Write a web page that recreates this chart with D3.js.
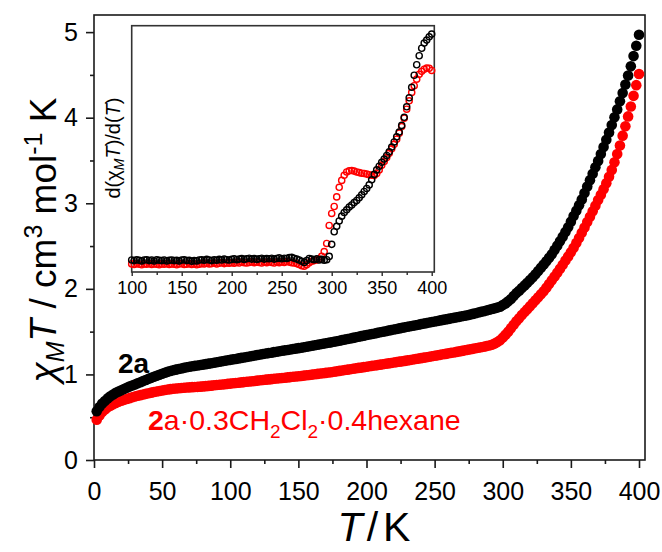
<!DOCTYPE html>
<html>
<head>
<meta charset="utf-8">
<script src="https://cdn.jsdelivr.net/npm/d3@7"></script>
<style>
  html, body { margin: 0; padding: 0; background: #fff; }
  svg { display: block; }
  text { font-family: "Liberation Sans", Arial, sans-serif; }
</style>
</head>
<body>
<svg id="chart" width="662" height="552"></svg>
<script>
// Temperature sweep (K) for the main chi_M*T curves
const temps = [2,4,6,8,10,12,14,16,18,20,22,24,26,28,30,32,34,36,38,40,42,44,46,48,50,52,54,56,58,60,62,64,66,68,70,72,74,76,78,80,82,84,86,88,90,92,94,96,98,100,102,104,106,108,110,112,114,116,118,120,122,124,126,128,130,132,134,136,138,140,142,144,146,148,150,152,154,156,158,160,162,164,166,168,170,172,174,176,178,180,182,184,186,188,190,192,194,196,198,200,202,204,206,208,210,212,214,216,218,220,222,224,226,228,230,232,234,236,238,240,242,244,246,248,250,252,254,256,258,260,262,264,266,268,270,272,274,276,278,280,282,284,286,288,290,292,294,296,298,300,302,304,306,308,310,312,314,316,318,320,322,324,326,328,330,332,334,336,338,340,342,344,346,348,350,352,354,356,358,360,362,364,366,368,370,372,374,376,378,380,382,384,386,388,390,392,394,396,398,400];

// chi_M*T (cm3 mol-1 K) of desolvated 2a
const chiT_2a = [0.57,0.62,0.66,0.69,0.72,0.745,0.765,0.785,0.80,0.815,0.83,0.845,0.858,0.87,0.883,0.896,0.909,0.922,0.935,0.948,0.96,0.972,0.984,0.996,1.008,1.02,1.03,1.04,1.048,1.056,1.063,1.07,1.077,1.083,1.089,1.095,1.10,1.105,1.11,1.115,1.12,1.126,1.131,1.137,1.142,1.148,1.154,1.159,1.165,1.17,1.176,1.181,1.187,1.193,1.198,1.204,1.21,1.215,1.221,1.227,1.232,1.238,1.244,1.249,1.254,1.26,1.265,1.27,1.276,1.281,1.286,1.292,1.297,1.302,1.307,1.312,1.318,1.324,1.33,1.335,1.341,1.347,1.352,1.358,1.364,1.37,1.375,1.381,1.388,1.394,1.401,1.407,1.414,1.42,1.427,1.433,1.44,1.447,1.453,1.46,1.466,1.473,1.479,1.486,1.492,1.499,1.505,1.512,1.518,1.525,1.531,1.538,1.544,1.55,1.557,1.563,1.569,1.575,1.581,1.588,1.594,1.6,1.606,1.613,1.619,1.625,1.631,1.637,1.643,1.649,1.655,1.661,1.667,1.673,1.679,1.685,1.691,1.699,1.707,1.715,1.723,1.731,1.739,1.747,1.756,1.764,1.772,1.781,1.79,1.81,1.83,1.855,1.88,1.915,1.95,1.978,2.009,2.04,2.072,2.103,2.135,2.17,2.208,2.246,2.285,2.323,2.362,2.405,2.455,2.505,2.557,2.61,2.663,2.72,2.785,2.85,2.914,2.978,3.045,3.12,3.195,3.27,3.345,3.42,3.495,3.575,3.657,3.741,3.827,3.915,4.005,4.097,4.191,4.288,4.388,4.492,4.6,4.72,4.84,4.97];

// chi_M*T (cm3 mol-1 K) of the solvate 2a·0.3CH2Cl2·0.4hexane
const chiT_solv = [0.47,0.52,0.56,0.59,0.615,0.635,0.652,0.667,0.68,0.692,0.703,0.713,0.723,0.733,0.742,0.75,0.758,0.766,0.773,0.78,0.787,0.794,0.80,0.806,0.812,0.818,0.823,0.828,0.832,0.836,0.839,0.842,0.845,0.847,0.849,0.851,0.853,0.855,0.857,0.86,0.863,0.866,0.869,0.873,0.876,0.88,0.883,0.886,0.89,0.893,0.896,0.9,0.903,0.907,0.91,0.914,0.917,0.921,0.924,0.928,0.932,0.935,0.939,0.942,0.945,0.949,0.952,0.955,0.959,0.962,0.965,0.969,0.972,0.975,0.979,0.982,0.986,0.99,0.994,0.998,1.002,1.006,1.01,1.014,1.018,1.022,1.026,1.031,1.036,1.041,1.046,1.051,1.056,1.061,1.066,1.071,1.076,1.08,1.085,1.09,1.095,1.1,1.105,1.109,1.114,1.119,1.124,1.129,1.134,1.139,1.144,1.149,1.153,1.158,1.164,1.169,1.174,1.18,1.185,1.19,1.196,1.201,1.207,1.212,1.218,1.223,1.229,1.235,1.24,1.246,1.252,1.257,1.263,1.269,1.275,1.281,1.287,1.293,1.299,1.305,1.311,1.317,1.324,1.331,1.338,1.347,1.36,1.378,1.40,1.43,1.465,1.50,1.54,1.58,1.62,1.657,1.693,1.728,1.762,1.796,1.831,1.866,1.901,1.936,1.972,2.014,2.057,2.1,2.144,2.189,2.235,2.282,2.33,2.379,2.428,2.481,2.537,2.595,2.655,2.717,2.78,2.843,2.907,2.972,3.038,3.10,3.165,3.235,3.31,3.39,3.48,3.575,3.675,3.79,3.90,4.015,4.13,4.255,4.38,4.51];

// Temperatures (K) for the derivative inset
const dTemps = [100,102.5,105,107.5,110,112.5,115,117.5,120,122.5,125,127.5,130,132.5,135,137.5,140,142.5,145,147.5,150,152.5,155,157.5,160,162.5,165,167.5,170,172.5,175,177.5,180,182.5,185,187.5,190,192.5,195,197.5,200,202.5,205,207.5,210,212.5,215,217.5,220,222.5,225,227.5,230,232.5,235,237.5,240,242.5,245,247.5,250,252.5,255,257.5,260,262.5,265,267.5,270,272.5,275,277.5,280,282.5,285,287.5,290,292.5,295,297.5,300,302.5,305,307.5,310,312.5,315,317.5,320,322.5,325,327.5,330,332.5,335,337.5,340,342.5,345,347.5,350,352.5,355,357.5,360,362.5,365,367.5,370,372.5,375,377.5,380,382.5,385,387.5,390,392.5,395,397.5,400];

// d(chi_M*T)/dT of 2a
const dChiT_2a = [0.0040,0.0038,0.0041,0.0039,0.0037,0.0040,0.0041,0.0038,0.0040,0.0037,0.0041,0.0039,0.0038,0.0040,0.0037,0.0039,0.0040,0.0038,0.0039,0.0037,0.0040,0.0041,0.0038,0.0039,0.0036,0.0038,0.0037,0.0040,0.0041,0.0039,0.0042,0.0040,0.0038,0.0041,0.0039,0.0042,0.0040,0.0043,0.0041,0.0040,0.0042,0.0044,0.0041,0.0043,0.0045,0.0042,0.0044,0.0046,0.0043,0.0045,0.0042,0.0044,0.0046,0.0043,0.0045,0.0044,0.0046,0.0043,0.0045,0.0047,0.0044,0.0046,0.0045,0.0048,0.0049,0.0046,0.0043,0.0040,0.0036,0.0032,0.0038,0.0045,0.0043,0.0041,0.0044,0.0040,0.0042,0.0039,0.0041,0.0052,0.0092,0.0134,0.0152,0.0170,0.0186,0.0198,0.0207,0.0216,0.0223,0.0231,0.0238,0.0247,0.0257,0.0268,0.0278,0.0290,0.0307,0.0325,0.0340,0.0352,0.0365,0.0376,0.0388,0.0400,0.0416,0.0433,0.0450,0.0466,0.0488,0.0515,0.0550,0.0580,0.0615,0.0655,0.0690,0.0720,0.0745,0.0762,0.0772,0.0783,0.0792,0.0801];

// d(chi_M*T)/dT of the solvate
const dChiT_solv = [0.0027,0.0025,0.0028,0.0026,0.0024,0.0027,0.0026,0.0028,0.0025,0.0027,0.0026,0.0024,0.0027,0.0026,0.0028,0.0025,0.0027,0.0026,0.0024,0.0027,0.0028,0.0025,0.0026,0.0028,0.0025,0.0027,0.0024,0.0026,0.0028,0.0027,0.0029,0.0027,0.0028,0.0030,0.0027,0.0029,0.0031,0.0028,0.0030,0.0029,0.0031,0.0029,0.0032,0.0030,0.0033,0.0031,0.0030,0.0032,0.0034,0.0031,0.0033,0.0032,0.0030,0.0033,0.0031,0.0034,0.0032,0.0030,0.0033,0.0031,0.0034,0.0032,0.0035,0.0033,0.0031,0.0030,0.0028,0.0025,0.0021,0.0019,0.0024,0.0031,0.0036,0.0038,0.0040,0.0043,0.0052,0.0068,0.0095,0.0155,0.0195,0.0218,0.0250,0.0282,0.0305,0.0322,0.0333,0.0337,0.0338,0.0336,0.0333,0.0331,0.0329,0.0328,0.0326,0.0324,0.0322,0.0321,0.0328,0.0340,0.0355,0.0368,0.0381,0.0395,0.0410,0.0425,0.0442,0.0462,0.0484,0.0512,0.0542,0.0570,0.0598,0.0620,0.0642,0.0658,0.0668,0.0675,0.0679,0.0678,0.0671];

// Axis ticks
const xMajor = [0,50,100,150,200,250,300,350,400];
const xMinor = [25,75,125,175,225,275,325,375];
const yMajor = [0,1,2,3,4,5];
const yMinor = [0.5,1.5,2.5,3.5,4.5];
const insetMajor = [100,150,200,250,300,350,400];
const insetMinor = [125,175,225,275,325,375];

const svg = d3.select("#chart");
svg.append("rect").attr("width", 662).attr("height", 552).attr("fill", "#fff");

// ---------- main panel ----------
const x = d3.scaleLinear().domain([0, 404.4]).range([94, 645]);
const y = d3.scaleLinear().domain([0, 5.2]).range([460, 15]);

const axisColor = "#1a1a1a";

function styleAxis(g, fs, sw) {
  g.select(".domain").remove();
  g.selectAll(".tick line").attr("stroke", axisColor).attr("stroke-width", sw);
  g.selectAll("text").attr("fill", "#000").attr("font-size", fs)
    .attr("font-family", "Liberation Sans, Arial, sans-serif");
}

// minor ticks
svg.append("g").attr("transform", "translate(0,460)")
  .call(d3.axisBottom(x).tickValues(xMinor).tickSize(4).tickFormat(""))
  .call(g => styleAxis(g, 25, 1.6));
svg.append("g").attr("transform", "translate(94,0)")
  .call(d3.axisLeft(y).tickValues(yMinor).tickSize(4).tickFormat(""))
  .call(g => styleAxis(g, 25, 1.6));
// major ticks with labels
svg.append("g").attr("transform", "translate(0,460)")
  .call(d3.axisBottom(x).tickValues(xMajor).tickSize(8).tickPadding(14).tickFormat(d3.format("d")))
  .call(g => styleAxis(g, 25, 1.6));
svg.append("g").attr("transform", "translate(94,0)")
  .call(d3.axisLeft(y).tickValues(yMajor).tickSize(8).tickPadding(8).tickFormat(d3.format("d")))
  .call(g => styleAxis(g, 25, 1.6));

// frame
svg.append("rect")
  .attr("x", x(0)).attr("y", y(5.2))
  .attr("width", x(404.4) - x(0)).attr("height", y(0) - y(5.2))
  .attr("fill", "none").attr("stroke", axisColor).attr("stroke-width", 1.6);

// data (solvate first, 2a drawn over it)
const mainSeries = [
  { vals: chiT_solv, color: "#ff0000" },
  { vals: chiT_2a, color: "#000000" }
];
mainSeries.forEach(s => {
  svg.append("g").selectAll("circle")
    .data(temps.map((t, i) => [t, s.vals[i]]))
    .join("circle")
    .attr("cx", d => x(d[0])).attr("cy", d => y(d[1]))
    .attr("r", 5.3).attr("fill", s.color);
});

// series labels
svg.append("text").attr("x", 118).attr("y", 373)
  .attr("font-size", 28).attr("font-weight", "bold").attr("fill", "#000").text("2a");

const solvLabel = svg.append("text").attr("x", 148).attr("y", 430)
  .attr("font-size", 28.5).attr("fill", "#ff0000");
solvLabel.append("tspan").attr("font-weight", "bold").text("2");
solvLabel.append("tspan").text("a·0.3CH");
solvLabel.append("tspan").attr("font-size", 19).attr("dy", 8).text("2");
solvLabel.append("tspan").attr("dy", -8).text("Cl");
solvLabel.append("tspan").attr("font-size", 19).attr("dy", 8).text("2");
solvLabel.append("tspan").attr("dy", -8).text("·0.4hexane");

// axis titles
const xTitle = svg.append("text").attr("x", 374).attr("y", 541)
  .attr("text-anchor", "middle").attr("font-size", 41).attr("fill", "#000");
xTitle.append("tspan").attr("font-style", "italic").text("T");
xTitle.append("tspan").attr("dx", 4).text("/");
xTitle.append("tspan").attr("dx", 5).text("K");

const yTitle = svg.append("text")
  .attr("transform", "translate(56,240) rotate(-90)")
  .attr("text-anchor", "middle").attr("font-size", 37).attr("fill", "#000");
yTitle.append("tspan").attr("font-style", "italic").text("χ");
yTitle.append("tspan").attr("font-style", "italic").attr("font-size", 25).attr("dy", 8).text("M");
yTitle.append("tspan").attr("font-style", "italic").attr("dy", -8).text("T");
yTitle.append("tspan").text(" / cm");
yTitle.append("tspan").attr("font-size", 25).attr("dy", -14).text("3");
yTitle.append("tspan").attr("dy", 14).text(" mol");
yTitle.append("tspan").attr("font-size", 25).attr("dy", -14).text("-1");
yTitle.append("tspan").attr("dy", 14).text(" K");

// ---------- inset: derivative ----------
const xi = d3.scaleLinear().domain([100, 402.6]).range([131.7, 434.3]);
const yi = d3.scaleLinear().domain([0, 0.082]).range([272, 25.7]);

svg.append("g").attr("transform", "translate(0,272)")
  .call(d3.axisBottom(xi).tickValues(insetMinor).tickSize(3).tickFormat(""))
  .call(g => styleAxis(g, 18, 1.3));
svg.append("g").attr("transform", "translate(0,272)")
  .call(d3.axisBottom(xi).tickValues(insetMajor).tickSize(4).tickPadding(5).tickFormat(d3.format("d")))
  .call(g => styleAxis(g, 18, 1.3));

svg.append("rect")
  .attr("x", xi(100)).attr("y", yi(0.082))
  .attr("width", xi(402.6) - xi(100)).attr("height", yi(0) - yi(0.082))
  .attr("fill", "none").attr("stroke", "#333").attr("stroke-width", 1.6);

const insetSeries = [
  { vals: dChiT_solv, color: "#ff0000" },
  { vals: dChiT_2a, color: "#000000" }
];
insetSeries.forEach(s => {
  svg.append("g").selectAll("circle")
    .data(dTemps.map((t, i) => [t, s.vals[i]]))
    .join("circle")
    .attr("cx", d => xi(d[0])).attr("cy", d => yi(d[1]))
    .attr("r", 3.1).attr("fill", "none")
    .attr("stroke", s.color).attr("stroke-width", 1.4);
});

const yiTitle = svg.append("text")
  .attr("transform", "translate(120,148) rotate(-90)")
  .attr("text-anchor", "middle").attr("font-size", 20).attr("fill", "#000");
yiTitle.append("tspan").text("d(χ");
yiTitle.append("tspan").attr("font-style", "italic").attr("font-size", 14).attr("dy", 4).text("M");
yiTitle.append("tspan").attr("font-style", "italic").attr("dy", -4).text("T");
yiTitle.append("tspan").text(")/d(");
yiTitle.append("tspan").attr("font-style", "italic").text("T");
yiTitle.append("tspan").text(")");
</script>
</body>
</html>
